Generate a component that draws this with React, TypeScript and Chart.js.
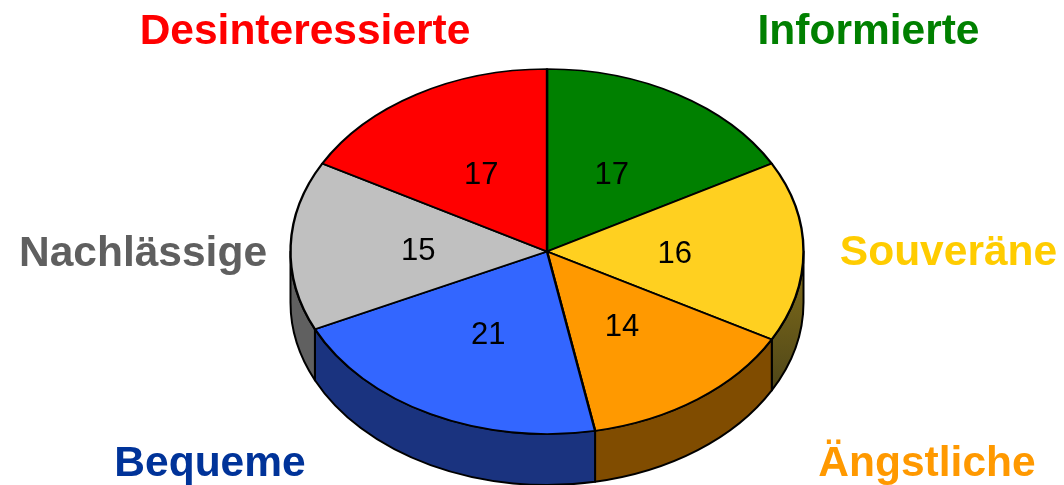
import React, { useEffect, useRef } from "react";
import Chart from "chart.js/auto";

const segments = ["Informierte", "Souveräne", "Ängstliche", "Bequeme", "Nachlässige", "Desinteressierte"];
const shares = [17, 16, 14, 21, 15, 17];
const topColors = ["#008000", "#FFD020", "#FF9900", "#3366FF", "#C0C0C0", "#FF0000"];
const wallColors = ["#004000", "#665510", "#804C00", "#1A337F", "#606060", "#800000"];
const nameColors = ["#008000", "#FFCC00", "#FF9900", "#003399", "#5F5F5F", "#FF0000"];

const CX = 547;
const CY = 251.5;
const RX = 256.5;
const RY = 182.5;
const DEPTH = 51;
const K = RY / RX;
const NAME_ANCHORS: [number, number][] = [
  [868.5, 44],
  [948.5, 265],
  [927, 476],
  [210, 476],
  [143, 266],
  [305, 44],
];

const piePlugin = {
  id: "tiltedPie",
  beforeDatasetsDraw(chart: any) {
    const ctx = chart.ctx;
    const arcs = chart.getDatasetMeta(0).data;
    ctx.save();
    arcs.forEach((arc: any, i: number) => {
      const a0 = Math.max(arc.startAngle, 0);
      const a1 = Math.min(arc.endAngle, Math.PI);
      if (a1 <= a0) return;
      ctx.beginPath();
      ctx.ellipse(CX, CY, RX, RY, 0, a0, a1);
      ctx.ellipse(CX, CY + DEPTH, RX, RY, 0, a1, a0, true);
      ctx.closePath();
      if (i === 1) {
        const g = ctx.createLinearGradient(0, CY, 0, CY + 150);
        g.addColorStop(0, "#85701A");
        g.addColorStop(1, "#4A4218");
        ctx.fillStyle = g;
      } else {
        ctx.fillStyle = wallColors[i];
      }
      ctx.fill();
      ctx.lineWidth = 2;
      ctx.lineJoin = "round";
      ctx.strokeStyle = "#000";
      ctx.stroke();
    });
    ctx.translate(CX, CY);
    ctx.scale(1, K);
    ctx.translate(-CX, -CY);
  },
  afterDatasetsDraw(chart: any) {
    const ctx = chart.ctx;
    ctx.restore();
    const arcs = chart.getDatasetMeta(0).data;
    ctx.save();
    ctx.textAlign = "center";
    ctx.textBaseline = "alphabetic";
    ctx.fillStyle = "#000";
    ctx.font = '31px "Liberation Sans"';
    arcs.forEach((arc: any, i: number) => {
      const p = arc.getCenterPoint();
      ctx.fillText(String(shares[i]), p.x - 0.5, CY + (p.y - CY) * K + 11);
    });
    ctx.font = 'bold 42.5px "Liberation Sans"';
    segments.forEach((name, i) => {
      ctx.fillStyle = nameColors[i];
      ctx.fillText(name, NAME_ANCHORS[i][0], NAME_ANCHORS[i][1]);
    });
    ctx.restore();
  },
};

export default function App() {
  const ref = useRef<HTMLCanvasElement | null>(null);
  useEffect(() => {
    const chart = new Chart(ref.current!, {
      type: "pie",
      data: {
        labels: segments,
        datasets: [
          {
            data: shares,
            backgroundColor: topColors,
            borderColor: "#000",
            borderWidth: 2.4,
            borderAlign: "center",
            borderJoinStyle: "round",
          },
        ],
      },
      options: {
        animation: false,
        responsive: false,
        radius: RX,
        layout: { padding: { left: 30, top: 18 } },
        plugins: { legend: { display: false }, tooltip: { enabled: false } },
      } as any,
      plugins: [piePlugin],
    });
    return () => chart.destroy();
  }, []);
  return (
    <canvas
      ref={ref}
      width={1064}
      height={485}
      style={{ position: "absolute", left: 0, top: 0, width: 1064, height: 485 }}
    />
  );
}
